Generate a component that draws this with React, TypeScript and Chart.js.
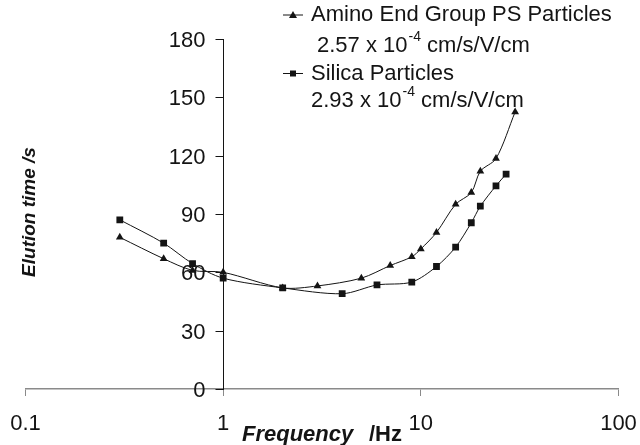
import React, { useEffect, useRef } from 'react';
import { Chart, registerables } from 'chart.js';

Chart.register(...registerables);

// ---- data ----
const aminoFreq = [0.3, 0.5, 0.7, 1, 2, 3, 5, 7, 9, 10, 12, 15, 18, 20, 24, 30];
const aminoTime = [78, 67, 61, 60, 52, 53, 57, 63.5, 68, 72, 80.5, 95, 101, 112, 118.5, 142.5];
const silicaFreq = [0.3, 0.5, 0.7, 1, 2, 4, 6, 9, 12, 15, 18, 20, 24, 27];
const silicaTime = [87, 75, 64.5, 57, 52, 49, 53.5, 55, 63, 73, 85.5, 94, 104.5, 110.5];
const xTickValues = [0.1, 1, 10, 100];
const xTickLabels = ['0.1', '1', '10', '100'];
const yTickValues = [0, 30, 60, 90, 120, 150, 180];
const yTickLabels = ['0', '30', '60', '90', '120', '150', '180'];
const legendLabels = ['Amino End Group PS Particles', 'Silica Particles'];
const legendSub = [['2.57 x 10', '-4', ' cm/s/V/cm'], ['2.93 x 10', '-4', ' cm/s/V/cm']];
const xTitleParts = ['Frequency', '/Hz'];
const yTitle = 'Elution time /s';
const yAxisAtX = 1;

const FONT = '"Liberation Sans", Arial, sans-serif';
const INK = '#141414';

const textPlugin = {
  id: 'customText',
  afterDraw(chart: any) {
    const ctx = chart.ctx as CanvasRenderingContext2D;
    const xs = chart.scales.x;
    const ys = chart.scales.y;
    ctx.save();
    ctx.fillStyle = INK;
    ctx.strokeStyle = INK;
    // y tick marks + labels (axis crosses at x = 1)
    const ax = Math.round(xs.getPixelForValue(yAxisAtX)) + 0.5;
    ctx.lineWidth = 1;
    ctx.font = `22px ${FONT}`;
    ctx.textAlign = 'right';
    ctx.textBaseline = 'middle';
    yTickValues.forEach((v, i) => {
      const py = Math.round(ys.getPixelForValue(v)) + 0.5;
      ctx.beginPath();
      ctx.moveTo(ax, py);
      ctx.lineTo(ax - 8, py);
      ctx.stroke();
      ctx.fillText(yTickLabels[i], ax - 18, py + 1);
    });
    // legend
    const rows = [15, 73.5];
    const subRows = [46, 101];
    const subX = [317, 311];
    const styles = ['triangle', 'rect'];
    ctx.textAlign = 'left';
    rows.forEach((y, i) => {
      ctx.lineWidth = 1;
      ctx.beginPath();
      ctx.moveTo(283, y);
      ctx.lineTo(303, y);
      ctx.stroke();
      const cx = 293;
      ctx.beginPath();
      if (styles[i] === 'triangle') {
        ctx.moveTo(cx, y - 4);
        ctx.lineTo(cx + 4, y + 3);
        ctx.lineTo(cx - 4, y + 3);
        ctx.closePath();
      } else {
        ctx.rect(cx - 3, y - 3, 6, 6);
      }
      ctx.fill();
      ctx.font = `22px ${FONT}`;
      ctx.textBaseline = 'middle';
      ctx.fillText(legendLabels[i], 311, y);
      const [a, sup, b] = legendSub[i];
      let x = subX[i];
      ctx.fillText(a, x, subRows[i]);
      x += ctx.measureText(a).width + 1;
      ctx.font = `14px ${FONT}`;
      ctx.fillText(sup, x, subRows[i] - 9);
      x += ctx.measureText(sup).width;
      ctx.font = `22px ${FONT}`;
      ctx.fillText(b, x, subRows[i]);
    });
    // x title
    ctx.textBaseline = 'alphabetic';
    ctx.font = `italic bold 22px ${FONT}`;
    ctx.fillText(xTitleParts[0], 242, 441);
    ctx.font = `bold 22px ${FONT}`;
    ctx.fillText(xTitleParts[1], 369, 441);
    // y title
    ctx.translate(30, 212);
    ctx.rotate(-Math.PI / 2);
    ctx.textAlign = 'center';
    ctx.textBaseline = 'middle';
    ctx.font = `italic bold 19px ${FONT}`;
    ctx.fillText(yTitle, 0, 0);
    ctx.restore();
  },
};

export default function App() {
  const ref = useRef<HTMLCanvasElement>(null);
  useEffect(() => {
    const canvas = ref.current!;
    const chart = new Chart(canvas, {
      type: 'line',
      data: {
        datasets: [
          {
            label: legendLabels[0],
            data: aminoFreq.map((f, i) => ({ x: f, y: aminoTime[i] })),
            borderColor: INK,
            backgroundColor: INK,
            borderWidth: 1,
            pointStyle: 'triangle',
            pointRadius: 4.5,
            pointBorderWidth: 0,
            tension: 0.3,
            fill: false,
          },
          {
            label: legendLabels[1],
            data: silicaFreq.map((f, i) => ({ x: f, y: silicaTime[i] })),
            borderColor: INK,
            backgroundColor: INK,
            borderWidth: 1,
            pointStyle: 'rect',
            pointRadius: 4.8,
            pointBorderWidth: 0,
            tension: 0.3,
            fill: false,
          },
        ],
      },
      options: {
        responsive: false,
        animation: false,
        devicePixelRatio: 1,
        layout: { padding: { left: 25.5, right: 21.5, top: 39, bottom: 10 } },
        plugins: { legend: { display: false }, tooltip: { enabled: false } },
        scales: {
          x: {
            type: 'logarithmic',
            position: 'bottom',
            min: 0.1,
            max: 100,
            afterBuildTicks: (s: any) => {
              s.ticks = xTickValues.map((v) => ({ value: v }));
            },
            afterFit: (s: any) => {
              s.paddingLeft = 0;
              s.paddingRight = 0;
              s.paddingTop = 0;
              s.paddingBottom = 0;
              s.height = 46;
            },
            ticks: {
              callback: (v: any) => xTickLabels[xTickValues.indexOf(Number(v))] ?? '',
              font: { family: FONT, size: 22 },
              color: INK,
              padding: 15,
              maxRotation: 0,
              autoSkip: false,
            },
            grid: { drawOnChartArea: false, drawTicks: true, tickLength: 7, color: '#8a8a8a' },
            border: { color: '#8a8a8a', width: 1.5 },
          },
          y: {
            type: 'linear',
            position: { x: yAxisAtX } as any,
            min: 0,
            max: 180,
            afterBuildTicks: (s: any) => {
              s.ticks = yTickValues.map((v) => ({ value: v }));
            },
            afterFit: (s: any) => {
              s.paddingTop = 0;
              s.paddingBottom = 0;
              s.width = 0;
            },
            ticks: { display: false },
            grid: { drawOnChartArea: false, drawTicks: false },
            border: { color: INK, width: 1 },
          },
        },
      } as any,
      plugins: [textPlugin],
    });
    return () => chart.destroy();
  }, []);
  return (
    <div style={{ position: 'fixed', left: 0, top: 0, width: 640, height: 445, background: '#fff' }}>
      <canvas ref={ref} width={640} height={445} style={{ display: 'block' }} />
    </div>
  );
}
